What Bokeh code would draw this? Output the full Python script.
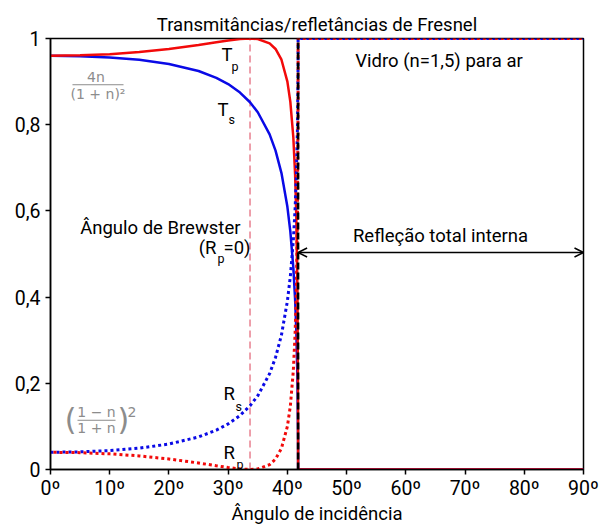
from bokeh.plotting import figure
from bokeh.models import Label, Arrow, OpenHead, FixedTicker, ColumnDataSource
from bokeh.embed import file_html
from bokeh.resources import INLINE

# ---- data ----
angle = [0, 5, 10, 15, 20, 25, 28, 30, 32, 33.69, 35, 37, 38, 39, 40, 40.5, 41, 41.3, 41.5, 41.7, 41.8, 41.81, 90]
Rs = [0.0400, 0.0409, 0.0439, 0.0495, 0.0591, 0.0755, 0.0912, 0.1058, 0.1254, 0.1479, 0.1711, 0.2224, 0.2600,
      0.3122, 0.3905, 0.4483, 0.5310, 0.6045, 0.6751, 0.7910, 0.9310, 1.0, 1.0]
Rp = [0.0400, 0.0391, 0.0363, 0.0315, 0.0244, 0.0151, 0.0087, 0.0046, 0.0012, 0.0000, 0.0012, 0.0113, 0.0243,
      0.0492, 0.1001, 0.1472, 0.2285, 0.3141, 0.4082, 0.5886, 0.8513, 1.0, 1.0]
Ts = [0.9600, 0.9591, 0.9561, 0.9505, 0.9409, 0.9245, 0.9088, 0.8942, 0.8746, 0.8521, 0.8289, 0.7776, 0.7400,
      0.6878, 0.6095, 0.5517, 0.4690, 0.3955, 0.3249, 0.2090, 0.0690, 0.0, 0.0]
Tp = [0.9600, 0.9609, 0.9637, 0.9685, 0.9756, 0.9849, 0.9913, 0.9954, 0.9988, 1.0000, 0.9988, 0.9887, 0.9757,
      0.9508, 0.8999, 0.8528, 0.7715, 0.6859, 0.5918, 0.4114, 0.1487, 0.0, 0.0]
brewster_angle = 33.69
critical_angle = 41.81
x_ticks = [0, 10, 20, 30, 40, 50, 60, 70, 80, 90]
x_tick_labels = ["0º", "10º", "20º", "30º", "40º", "50º", "60º", "70º", "80º", "90º"]
y_ticks = [0, 0.2, 0.4, 0.6, 0.8, 1]
y_tick_labels = ["0", "0,2", "0,4", "0,6", "0,8", "1"]

FONT = "Roboto"
TXT = "18.5px"

src = ColumnDataSource(dict(angle=angle, Rs=Rs, Rp=Rp, Ts=Ts, Tp=Tp))

p = figure(width=599, height=527, x_range=(0, 90), y_range=(0, 1),
           output_backend="svg", toolbar_location=None,
           min_border_left=50, min_border_right=16, min_border_top=38, min_border_bottom=58)

p.title.text = "Transmitâncias/refletâncias de Fresnel"
p.title.align = "center"
p.title.text_font = FONT
p.title.text_font_size = TXT
p.title.text_font_style = "normal"
p.title.text_color = "black"
p.title.offset = 0
p.title.standoff = 6

p.xgrid.visible = False
p.ygrid.visible = False
p.outline_line_color = "black"
p.outline_line_width = 1.5
p.background_fill_color = "white"
p.border_fill_color = "white"

for ax in (p.xaxis[0], p.yaxis[0]):
    ax.axis_line_width = 1.5
    ax.axis_line_color = "black"
    ax.major_tick_line_width = 1.5
    ax.major_tick_line_color = "black"
    ax.major_tick_out = 5
    ax.major_tick_in = 0
    ax.minor_tick_out = 0
    ax.minor_tick_in = 0
    ax.major_label_text_font = FONT
    ax.major_label_text_font_size = "19.5px"
    ax.major_label_text_color = "black"

p.xaxis.ticker = FixedTicker(ticks=x_ticks)
p.yaxis.ticker = FixedTicker(ticks=y_ticks)
p.xaxis.major_label_overrides = {t: s for t, s in zip(x_ticks, x_tick_labels)}
p.yaxis.major_label_overrides = {t: s for t, s in zip(y_ticks, y_tick_labels)}
p.xaxis.major_label_standoff = 2
p.yaxis.major_label_standoff = 5
p.xaxis.axis_label = "Ângulo de incidência"
p.xaxis.axis_label_text_font = FONT
p.xaxis.axis_label_text_font_size = TXT
p.xaxis.axis_label_text_font_style = "normal"
p.xaxis.axis_label_text_color = "black"
p.xaxis.axis_label_standoff = 0

# Brewster angle
p.line([brewster_angle, brewster_angle], [0, 1], line_color="#e8808f", line_width=1.5, line_dash="7 4")

# curves
p.line("angle", "Ts", source=src, line_color="#0a0ae6", line_width=2.5)
p.line("angle", "Tp", source=src, line_color="#f20a0a", line_width=2.5)
p.line("angle", "Rs", source=src, line_color="#0a0ae6", line_width=3, line_dash="3 3")
p.line("angle", "Rp", source=src, line_color="#f20a0a", line_width=3, line_dash="3 3", line_dash_offset=3)

# critical angle
p.line([critical_angle, critical_angle], [0, 1], line_color="black", line_width=2.5, line_dash="7 3")

# arrow (total internal reflection)
p.add_layout(Arrow(x_start=critical_angle, y_start=0.5035, x_end=90, y_end=0.5035,
                   line_color="black", line_width=1.5,
                   start=OpenHead(size=9, line_width=1.5, line_color="black"),
                   end=OpenHead(size=9, line_width=1.5, line_color="black")))


def lab(x, y, text, size=TXT, align="left", color="black", style="normal", font=FONT):
    p.add_layout(Label(x=x, y=y, text=text, text_font=font, text_font_size=size,
                       text_align=align, text_baseline="middle", text_color=color,
                       text_font_style=style))


# curve labels
lab(28.88, 0.962, "T")
lab(30.56, 0.934, "p", size="12.5px")
lab(28.2, 0.835, "T")
lab(30.06, 0.813, "s", size="12.5px")
lab(29.21, 0.1756, "R")
lab(31.24, 0.1467, "s", size="12.5px")
lab(29.21, 0.0378, "R")
lab(31.4, 0.011, "p", size="12.5px")

# Brewster text
lab(32.08, 0.561, "Ângulo de Brewster", align="right")
lab(28.03, 0.514, "(R", align="right")
lab(28.2, 0.4896, "p", size="12.5px")
lab(29.21, 0.514, "=0)")

lab(65.86, 0.5417, "Refleção total interna", align="center")
lab(65.6, 0.948, "Vidro (n=1,5) para ar", align="center")

# gray formulas
GRAY = "#8c8c8c"
MF = "DejaVu Sans"
lab(7.68, 0.911, "4n", size="14px", align="center", color=GRAY, font=MF)
p.line([3.71, 12.33], [0.8927, 0.8927], line_color=GRAY, line_width=1)
lab(8.02, 0.8715, "(1 + n)²", size="14px", align="center", color=GRAY, font=MF)

lab(2.4, 0.1165, "(", size="30px", color=GRAY, font=MF)
lab(7.77, 0.1326, "1 − n", size="14px", align="center", color=GRAY, font=MF)
p.line([4.56, 10.98], [0.1142, 0.1142], line_color=GRAY, line_width=1)
lab(7.77, 0.0965, "1 + n", size="14px", align="center", color=GRAY, font=MF)
lab(11.3, 0.1165, ")", size="30px", color=GRAY, font=MF)
lab(13.0, 0.134, "2", size="14px", color=GRAY, font=MF)

open("out.html", "w").write(file_html(p, INLINE))
